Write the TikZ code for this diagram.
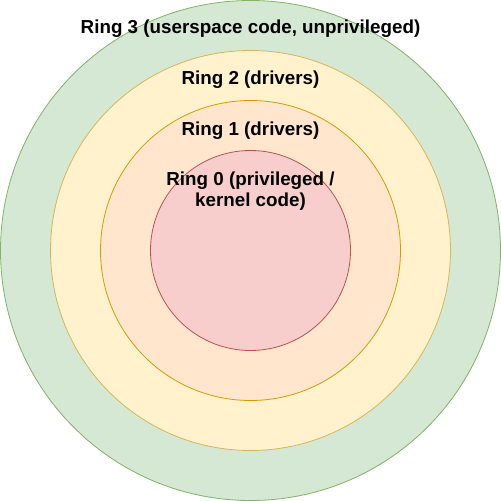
\documentclass[tikz,border=0pt]{standalone}
\usepackage{fontspec}
\setmainfont{Liberation Sans}
\usetikzlibrary{positioning}

\definecolor{ringthreefill}{HTML}{D5E8D4}
\definecolor{ringthreedraw}{HTML}{82B366}
\definecolor{ringtwofill}{HTML}{FFF2CC}
\definecolor{ringtwodraw}{HTML}{D6B656}
\definecolor{ringonefill}{HTML}{FFE6CC}
\definecolor{ringonedraw}{HTML}{D79B00}
\definecolor{ringzerofill}{HTML}{F8CECC}
\definecolor{ringzerodraw}{HTML}{B85450}

\tikzset{
  ring/.style={circle, inner sep=0pt, outer sep=0pt, line width=0.8pt},
  ringlabel/.style={font=\fontsize{18.8}{21.5}\selectfont\bfseries, align=center, inner sep=0pt}
}

\begin{document}
\begin{tikzpicture}[x=1pt, y=-1pt, on grid]

    \useasboundingbox (0,0) rectangle (501,501);

    \node[ring, draw=ringthreedraw, fill=ringthreefill, minimum size=500pt] (ring_3) at (250.5,250.5) {};
    \node[ring, draw=ringtwodraw, fill=ringtwofill, minimum size=400pt] (ring_2) at (ring_3.center) {};
    \node[ring, draw=ringonedraw, fill=ringonefill, minimum size=300pt] (ring_1) at (ring_3.center) {};
    \node[ring, draw=ringzerodraw, fill=ringzerofill, minimum size=200pt] (ring_0) at (ring_3.center) {};

    \node[ringlabel] (label_3) [below=19pt of ring_3.north] {Ring 3 (userspace code, unprivileged)};
    \node[ringlabel] (label_2) [below=20pt of ring_2.north] {Ring 2 (drivers)};
    \node[ringlabel] (label_1) [below=21pt of ring_1.north] {Ring 1 (drivers)};
    \node[ringlabel] (label_0) [below=21pt of ring_0.north] {Ring 0 (privileged /\\kernel code)};

  \end{tikzpicture}
\end{document}
